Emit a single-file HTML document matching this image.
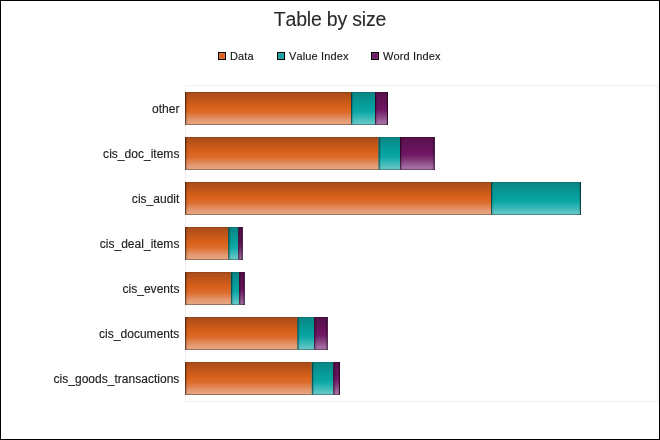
<!DOCTYPE html>
<html><head><meta charset="utf-8"><style>
html,body{margin:0;padding:0;}
body{font-kerning:none;width:660px;height:440px;position:relative;overflow:hidden;background:#fff;font-family:"Liberation Sans",sans-serif;}
.frame{position:absolute;left:0;top:0;width:660px;height:440px;box-sizing:border-box;border:1px solid #000;}
.title{position:absolute;left:0;width:660px;top:8px;text-align:center;font-size:19.5px;letter-spacing:-0.2px;font-kerning:none;color:#2a2a2a;-webkit-text-stroke:0.1px #2a2a2a;line-height:22px;}
.lg{position:absolute;top:49px;font-size:11px;letter-spacing:0.15px;color:#1a1a1a;-webkit-text-stroke:0.15px #1a1a1a;line-height:14px;white-space:nowrap;}
.mk{position:absolute;top:52px;width:6px;height:6px;border:1px solid #000;box-shadow:inset 0 0 0 1px rgba(255,255,255,0.12);}
.lab{position:absolute;right:480.6px;font-size:12px;letter-spacing:0.02px;color:#222;-webkit-text-stroke:0.15px #222;line-height:14px;white-space:nowrap;text-align:right;}
svg{position:absolute;left:0;top:0;}
.txt{position:absolute;left:0;top:0;width:660px;height:440px;will-change:transform;}
</style></head><body>
<svg width="660" height="440">
<defs>
<linearGradient id="gO" x1="0" y1="0" x2="0" y2="1">
<stop offset="0" stop-color="#a64c1c"/><stop offset="0.15" stop-color="#b8521a"/><stop offset="0.45" stop-color="#d8601a"/><stop offset="0.62" stop-color="#dc6c2c"/><stop offset="0.85" stop-color="#e49870"/><stop offset="1" stop-color="#e9aa84"/>
</linearGradient>
<linearGradient id="gT" x1="0" y1="0" x2="0" y2="1">
<stop offset="0" stop-color="#0a8482"/><stop offset="0.3" stop-color="#069896"/><stop offset="0.5" stop-color="#06a2a0"/><stop offset="0.62" stop-color="#10aaa6"/><stop offset="0.8" stop-color="#3cbaba"/><stop offset="0.92" stop-color="#5ec4c4"/><stop offset="1" stop-color="#62c6c6"/>
</linearGradient>
<linearGradient id="gP" x1="0" y1="0" x2="0" y2="1">
<stop offset="0" stop-color="#561048"/><stop offset="0.15" stop-color="#5e1252"/><stop offset="0.45" stop-color="#6c1460"/><stop offset="0.55" stop-color="#721a68"/><stop offset="0.75" stop-color="#8a4682"/><stop offset="0.9" stop-color="#a068a0"/><stop offset="1" stop-color="#a874a6"/>
</linearGradient>
<linearGradient id="s1" gradientUnits="userSpaceOnUse" x1="185" y1="0" x2="188" y2="0"><stop offset="0" stop-color="#000" stop-opacity="0.3"/><stop offset="1" stop-color="#000" stop-opacity="0"/></linearGradient>
<linearGradient id="s2" gradientUnits="userSpaceOnUse" x1="351" y1="0" x2="354" y2="0"><stop offset="0" stop-color="#000" stop-opacity="0.3"/><stop offset="1" stop-color="#000" stop-opacity="0"/></linearGradient>
<linearGradient id="s3" gradientUnits="userSpaceOnUse" x1="375" y1="0" x2="378" y2="0"><stop offset="0" stop-color="#000" stop-opacity="0.3"/><stop offset="1" stop-color="#000" stop-opacity="0"/></linearGradient>
<linearGradient id="s4" gradientUnits="userSpaceOnUse" x1="388" y1="0" x2="385" y2="0"><stop offset="0" stop-color="#000" stop-opacity="0.15"/><stop offset="1" stop-color="#000" stop-opacity="0"/></linearGradient>
<linearGradient id="s5" gradientUnits="userSpaceOnUse" x1="185" y1="0" x2="188" y2="0"><stop offset="0" stop-color="#000" stop-opacity="0.3"/><stop offset="1" stop-color="#000" stop-opacity="0"/></linearGradient>
<linearGradient id="s6" gradientUnits="userSpaceOnUse" x1="378.5" y1="0" x2="381.5" y2="0"><stop offset="0" stop-color="#000" stop-opacity="0.3"/><stop offset="1" stop-color="#000" stop-opacity="0"/></linearGradient>
<linearGradient id="s7" gradientUnits="userSpaceOnUse" x1="400" y1="0" x2="403" y2="0"><stop offset="0" stop-color="#000" stop-opacity="0.3"/><stop offset="1" stop-color="#000" stop-opacity="0"/></linearGradient>
<linearGradient id="s8" gradientUnits="userSpaceOnUse" x1="434.7" y1="0" x2="431.7" y2="0"><stop offset="0" stop-color="#000" stop-opacity="0.15"/><stop offset="1" stop-color="#000" stop-opacity="0"/></linearGradient>
<linearGradient id="s9" gradientUnits="userSpaceOnUse" x1="185" y1="0" x2="188" y2="0"><stop offset="0" stop-color="#000" stop-opacity="0.3"/><stop offset="1" stop-color="#000" stop-opacity="0"/></linearGradient>
<linearGradient id="s10" gradientUnits="userSpaceOnUse" x1="491" y1="0" x2="494" y2="0"><stop offset="0" stop-color="#000" stop-opacity="0.3"/><stop offset="1" stop-color="#000" stop-opacity="0"/></linearGradient>
<linearGradient id="s11" gradientUnits="userSpaceOnUse" x1="581" y1="0" x2="578" y2="0"><stop offset="0" stop-color="#000" stop-opacity="0.15"/><stop offset="1" stop-color="#000" stop-opacity="0"/></linearGradient>
<linearGradient id="s12" gradientUnits="userSpaceOnUse" x1="185" y1="0" x2="188" y2="0"><stop offset="0" stop-color="#000" stop-opacity="0.3"/><stop offset="1" stop-color="#000" stop-opacity="0"/></linearGradient>
<linearGradient id="s13" gradientUnits="userSpaceOnUse" x1="228.2" y1="0" x2="231.2" y2="0"><stop offset="0" stop-color="#000" stop-opacity="0.3"/><stop offset="1" stop-color="#000" stop-opacity="0"/></linearGradient>
<linearGradient id="s14" gradientUnits="userSpaceOnUse" x1="238.2" y1="0" x2="241.2" y2="0"><stop offset="0" stop-color="#000" stop-opacity="0.3"/><stop offset="1" stop-color="#000" stop-opacity="0"/></linearGradient>
<linearGradient id="s15" gradientUnits="userSpaceOnUse" x1="242.7" y1="0" x2="239.7" y2="0"><stop offset="0" stop-color="#000" stop-opacity="0.15"/><stop offset="1" stop-color="#000" stop-opacity="0"/></linearGradient>
<linearGradient id="s16" gradientUnits="userSpaceOnUse" x1="185" y1="0" x2="188" y2="0"><stop offset="0" stop-color="#000" stop-opacity="0.3"/><stop offset="1" stop-color="#000" stop-opacity="0"/></linearGradient>
<linearGradient id="s17" gradientUnits="userSpaceOnUse" x1="230.9" y1="0" x2="233.9" y2="0"><stop offset="0" stop-color="#000" stop-opacity="0.3"/><stop offset="1" stop-color="#000" stop-opacity="0"/></linearGradient>
<linearGradient id="s18" gradientUnits="userSpaceOnUse" x1="239.1" y1="0" x2="242.1" y2="0"><stop offset="0" stop-color="#000" stop-opacity="0.3"/><stop offset="1" stop-color="#000" stop-opacity="0"/></linearGradient>
<linearGradient id="s19" gradientUnits="userSpaceOnUse" x1="244.7" y1="0" x2="241.7" y2="0"><stop offset="0" stop-color="#000" stop-opacity="0.15"/><stop offset="1" stop-color="#000" stop-opacity="0"/></linearGradient>
<linearGradient id="s20" gradientUnits="userSpaceOnUse" x1="185" y1="0" x2="188" y2="0"><stop offset="0" stop-color="#000" stop-opacity="0.3"/><stop offset="1" stop-color="#000" stop-opacity="0"/></linearGradient>
<linearGradient id="s21" gradientUnits="userSpaceOnUse" x1="297.3" y1="0" x2="300.3" y2="0"><stop offset="0" stop-color="#000" stop-opacity="0.3"/><stop offset="1" stop-color="#000" stop-opacity="0"/></linearGradient>
<linearGradient id="s22" gradientUnits="userSpaceOnUse" x1="314.1" y1="0" x2="317.1" y2="0"><stop offset="0" stop-color="#000" stop-opacity="0.3"/><stop offset="1" stop-color="#000" stop-opacity="0"/></linearGradient>
<linearGradient id="s23" gradientUnits="userSpaceOnUse" x1="327.7" y1="0" x2="324.7" y2="0"><stop offset="0" stop-color="#000" stop-opacity="0.15"/><stop offset="1" stop-color="#000" stop-opacity="0"/></linearGradient>
<linearGradient id="s24" gradientUnits="userSpaceOnUse" x1="185" y1="0" x2="188" y2="0"><stop offset="0" stop-color="#000" stop-opacity="0.3"/><stop offset="1" stop-color="#000" stop-opacity="0"/></linearGradient>
<linearGradient id="s25" gradientUnits="userSpaceOnUse" x1="311.8" y1="0" x2="314.8" y2="0"><stop offset="0" stop-color="#000" stop-opacity="0.3"/><stop offset="1" stop-color="#000" stop-opacity="0"/></linearGradient>
<linearGradient id="s26" gradientUnits="userSpaceOnUse" x1="333.2" y1="0" x2="336.2" y2="0"><stop offset="0" stop-color="#000" stop-opacity="0.3"/><stop offset="1" stop-color="#000" stop-opacity="0"/></linearGradient>
<linearGradient id="s27" gradientUnits="userSpaceOnUse" x1="340" y1="0" x2="337" y2="0"><stop offset="0" stop-color="#000" stop-opacity="0.15"/><stop offset="1" stop-color="#000" stop-opacity="0"/></linearGradient>
</defs>
<rect x="185.5" y="85.5" width="472" height="316" fill="none" stroke="#efefef" stroke-width="1"/>
<rect x="185" y="92" width="166" height="33" fill="url(#gO)"/>
<rect x="185" y="92" width="3" height="33" fill="url(#s1)"/>
<rect x="185" y="92" width="166" height="1" fill="rgba(40,15,0,0.12)"/>
<rect x="185" y="124" width="166" height="1" fill="rgba(50,50,50,0.45)"/>
<rect x="185" y="93" width="1" height="31" fill="rgba(40,15,0,0.5)"/>
<rect x="351" y="92" width="24" height="33" fill="url(#gT)"/>
<rect x="351" y="92" width="3" height="33" fill="url(#s2)"/>
<rect x="351" y="92" width="24" height="1" fill="rgba(0,25,25,0.12)"/>
<rect x="351" y="124" width="24" height="1" fill="rgba(40,50,50,0.4)"/>
<rect x="351" y="93" width="1" height="31" fill="rgba(0,25,25,0.5)"/>
<rect x="375" y="92" width="13" height="33" fill="url(#gP)"/>
<rect x="375" y="92" width="3" height="33" fill="url(#s3)"/>
<rect x="375" y="92" width="13" height="1" fill="rgba(25,0,25,0.2)"/>
<rect x="375" y="124" width="13" height="1" fill="rgba(40,30,40,0.45)"/>
<rect x="375" y="93" width="1" height="31" fill="rgba(25,0,25,0.55)"/>
<rect x="385" y="92" width="3" height="33" fill="url(#s4)"/>
<rect x="387" y="92" width="1" height="33" fill="rgba(25,0,25,0.75)"/>
<rect x="185" y="137" width="193.5" height="33" fill="url(#gO)"/>
<rect x="185" y="137" width="3" height="33" fill="url(#s5)"/>
<rect x="185" y="137" width="193.5" height="1" fill="rgba(40,15,0,0.12)"/>
<rect x="185" y="169" width="193.5" height="1" fill="rgba(50,50,50,0.45)"/>
<rect x="185" y="138" width="1" height="31" fill="rgba(40,15,0,0.5)"/>
<rect x="378.5" y="137" width="21.5" height="33" fill="url(#gT)"/>
<rect x="378.5" y="137" width="3" height="33" fill="url(#s6)"/>
<rect x="378.5" y="137" width="21.5" height="1" fill="rgba(0,25,25,0.12)"/>
<rect x="378.5" y="169" width="21.5" height="1" fill="rgba(40,50,50,0.4)"/>
<rect x="378.5" y="138" width="1" height="31" fill="rgba(0,25,25,0.5)"/>
<rect x="400" y="137" width="34.69999999999999" height="33" fill="url(#gP)"/>
<rect x="400" y="137" width="3" height="33" fill="url(#s7)"/>
<rect x="400" y="137" width="34.69999999999999" height="1" fill="rgba(25,0,25,0.2)"/>
<rect x="400" y="169" width="34.69999999999999" height="1" fill="rgba(40,30,40,0.45)"/>
<rect x="400" y="138" width="1" height="31" fill="rgba(25,0,25,0.55)"/>
<rect x="431.7" y="137" width="3" height="33" fill="url(#s8)"/>
<rect x="433.7" y="137" width="1" height="33" fill="rgba(25,0,25,0.75)"/>
<rect x="185" y="182" width="306" height="33" fill="url(#gO)"/>
<rect x="185" y="182" width="3" height="33" fill="url(#s9)"/>
<rect x="185" y="182" width="306" height="1" fill="rgba(40,15,0,0.12)"/>
<rect x="185" y="214" width="306" height="1" fill="rgba(50,50,50,0.45)"/>
<rect x="185" y="183" width="1" height="31" fill="rgba(40,15,0,0.5)"/>
<rect x="491" y="182" width="90" height="33" fill="url(#gT)"/>
<rect x="491" y="182" width="3" height="33" fill="url(#s10)"/>
<rect x="491" y="182" width="90" height="1" fill="rgba(0,25,25,0.12)"/>
<rect x="491" y="214" width="90" height="1" fill="rgba(40,50,50,0.4)"/>
<rect x="491" y="183" width="1" height="31" fill="rgba(0,25,25,0.5)"/>
<rect x="578" y="182" width="3" height="33" fill="url(#s11)"/>
<rect x="580" y="182" width="1" height="33" fill="rgba(0,25,25,0.7)"/>
<rect x="185" y="227" width="43.19999999999999" height="33" fill="url(#gO)"/>
<rect x="185" y="227" width="3" height="33" fill="url(#s12)"/>
<rect x="185" y="227" width="43.19999999999999" height="1" fill="rgba(40,15,0,0.12)"/>
<rect x="185" y="259" width="43.19999999999999" height="1" fill="rgba(50,50,50,0.45)"/>
<rect x="185" y="228" width="1" height="31" fill="rgba(40,15,0,0.5)"/>
<rect x="228.2" y="227" width="10.0" height="33" fill="url(#gT)"/>
<rect x="228.2" y="227" width="3" height="33" fill="url(#s13)"/>
<rect x="228.2" y="227" width="10.0" height="1" fill="rgba(0,25,25,0.12)"/>
<rect x="228.2" y="259" width="10.0" height="1" fill="rgba(40,50,50,0.4)"/>
<rect x="228.2" y="228" width="1" height="31" fill="rgba(0,25,25,0.5)"/>
<rect x="238.2" y="227" width="4.5" height="33" fill="url(#gP)"/>
<rect x="238.2" y="227" width="3" height="33" fill="url(#s14)"/>
<rect x="238.2" y="227" width="4.5" height="1" fill="rgba(25,0,25,0.2)"/>
<rect x="238.2" y="259" width="4.5" height="1" fill="rgba(40,30,40,0.45)"/>
<rect x="238.2" y="228" width="1" height="31" fill="rgba(25,0,25,0.55)"/>
<rect x="239.7" y="227" width="3" height="33" fill="url(#s15)"/>
<rect x="241.7" y="227" width="1" height="33" fill="rgba(25,0,25,0.75)"/>
<rect x="185" y="272" width="45.900000000000006" height="33" fill="url(#gO)"/>
<rect x="185" y="272" width="3" height="33" fill="url(#s16)"/>
<rect x="185" y="272" width="45.900000000000006" height="1" fill="rgba(40,15,0,0.12)"/>
<rect x="185" y="304" width="45.900000000000006" height="1" fill="rgba(50,50,50,0.45)"/>
<rect x="185" y="273" width="1" height="31" fill="rgba(40,15,0,0.5)"/>
<rect x="230.9" y="272" width="8.199999999999989" height="33" fill="url(#gT)"/>
<rect x="230.9" y="272" width="3" height="33" fill="url(#s17)"/>
<rect x="230.9" y="272" width="8.199999999999989" height="1" fill="rgba(0,25,25,0.12)"/>
<rect x="230.9" y="304" width="8.199999999999989" height="1" fill="rgba(40,50,50,0.4)"/>
<rect x="230.9" y="273" width="1" height="31" fill="rgba(0,25,25,0.5)"/>
<rect x="239.1" y="272" width="5.599999999999994" height="33" fill="url(#gP)"/>
<rect x="239.1" y="272" width="3" height="33" fill="url(#s18)"/>
<rect x="239.1" y="272" width="5.599999999999994" height="1" fill="rgba(25,0,25,0.2)"/>
<rect x="239.1" y="304" width="5.599999999999994" height="1" fill="rgba(40,30,40,0.45)"/>
<rect x="239.1" y="273" width="1" height="31" fill="rgba(25,0,25,0.55)"/>
<rect x="241.7" y="272" width="3" height="33" fill="url(#s19)"/>
<rect x="243.7" y="272" width="1" height="33" fill="rgba(25,0,25,0.75)"/>
<rect x="185" y="317" width="112.30000000000001" height="33" fill="url(#gO)"/>
<rect x="185" y="317" width="3" height="33" fill="url(#s20)"/>
<rect x="185" y="317" width="112.30000000000001" height="1" fill="rgba(40,15,0,0.12)"/>
<rect x="185" y="349" width="112.30000000000001" height="1" fill="rgba(50,50,50,0.45)"/>
<rect x="185" y="318" width="1" height="31" fill="rgba(40,15,0,0.5)"/>
<rect x="297.3" y="317" width="16.80000000000001" height="33" fill="url(#gT)"/>
<rect x="297.3" y="317" width="3" height="33" fill="url(#s21)"/>
<rect x="297.3" y="317" width="16.80000000000001" height="1" fill="rgba(0,25,25,0.12)"/>
<rect x="297.3" y="349" width="16.80000000000001" height="1" fill="rgba(40,50,50,0.4)"/>
<rect x="297.3" y="318" width="1" height="31" fill="rgba(0,25,25,0.5)"/>
<rect x="314.1" y="317" width="13.599999999999966" height="33" fill="url(#gP)"/>
<rect x="314.1" y="317" width="3" height="33" fill="url(#s22)"/>
<rect x="314.1" y="317" width="13.599999999999966" height="1" fill="rgba(25,0,25,0.2)"/>
<rect x="314.1" y="349" width="13.599999999999966" height="1" fill="rgba(40,30,40,0.45)"/>
<rect x="314.1" y="318" width="1" height="31" fill="rgba(25,0,25,0.55)"/>
<rect x="324.7" y="317" width="3" height="33" fill="url(#s23)"/>
<rect x="326.7" y="317" width="1" height="33" fill="rgba(25,0,25,0.75)"/>
<rect x="185" y="362" width="126.80000000000001" height="33" fill="url(#gO)"/>
<rect x="185" y="362" width="3" height="33" fill="url(#s24)"/>
<rect x="185" y="362" width="126.80000000000001" height="1" fill="rgba(40,15,0,0.12)"/>
<rect x="185" y="394" width="126.80000000000001" height="1" fill="rgba(50,50,50,0.45)"/>
<rect x="185" y="363" width="1" height="31" fill="rgba(40,15,0,0.5)"/>
<rect x="311.8" y="362" width="21.399999999999977" height="33" fill="url(#gT)"/>
<rect x="311.8" y="362" width="3" height="33" fill="url(#s25)"/>
<rect x="311.8" y="362" width="21.399999999999977" height="1" fill="rgba(0,25,25,0.12)"/>
<rect x="311.8" y="394" width="21.399999999999977" height="1" fill="rgba(40,50,50,0.4)"/>
<rect x="311.8" y="363" width="1" height="31" fill="rgba(0,25,25,0.5)"/>
<rect x="333.2" y="362" width="6.800000000000011" height="33" fill="url(#gP)"/>
<rect x="333.2" y="362" width="3" height="33" fill="url(#s26)"/>
<rect x="333.2" y="362" width="6.800000000000011" height="1" fill="rgba(25,0,25,0.2)"/>
<rect x="333.2" y="394" width="6.800000000000011" height="1" fill="rgba(40,30,40,0.45)"/>
<rect x="333.2" y="363" width="1" height="31" fill="rgba(25,0,25,0.55)"/>
<rect x="337" y="362" width="3" height="33" fill="url(#s27)"/>
<rect x="339" y="362" width="1" height="33" fill="rgba(25,0,25,0.75)"/>
</svg>
<div class="txt"><div class="title">Table by size</div>
<div class="mk" style="left:218px;background:#d8641f"></div><div class="lg" style="left:230px">Data</div>
<div class="mk" style="left:277px;background:#16a0a0"></div><div class="lg" style="left:289px">Value Index</div>
<div class="mk" style="left:371px;background:#6a1a5e"></div><div class="lg" style="left:383px">Word Index</div></div>
<div class="txt"><div class="lab" style="top:101.5px">other</div>
<div class="lab" style="top:146.5px">cis_doc_items</div>
<div class="lab" style="top:191.5px">cis_audit</div>
<div class="lab" style="top:236.5px">cis_deal_items</div>
<div class="lab" style="top:281.5px">cis_events</div>
<div class="lab" style="top:326.5px">cis_documents</div>
<div class="lab" style="top:371.5px">cis_goods_transactions</div></div>
<div class="frame"></div>
</body></html>
